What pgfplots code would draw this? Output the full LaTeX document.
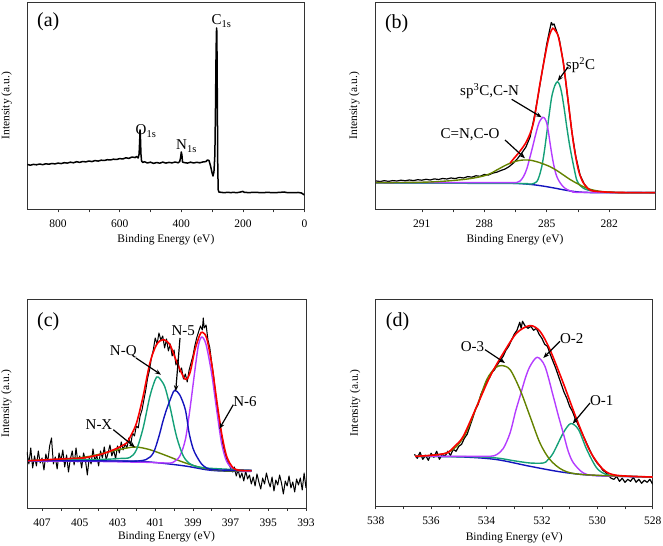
\documentclass[border=0pt]{standalone}
\usepackage{pgfplots}
\pgfplotsset{compat=1.18}
\usepackage{fontspec}
\setmainfont{Liberation Serif}
\usetikzlibrary{arrows.meta}
\definecolor{fitred}{RGB}{250,0,0}
\definecolor{cblue}{RGB}{20,20,190}
\definecolor{cgreen}{RGB}{20,160,120}
\definecolor{cpurple}{RGB}{180,60,255}
\definecolor{colive}{RGB}{100,130,0}
\pgfplotsset{
  xps/.style={
    scale only axis, anchor=south west,
    x dir=reverse, ytick=\empty,
    xtick pos=left, tick align=outside,
    major tick length=3bp, minor tick length=3bp,
    minor x tick num=1,
    axis line style={black!80, line width=0.6bp},
    every tick/.style={black!80, line width=0.6bp},
    /pgf/number format/assume math mode=true,
    /pgf/number format/1000 sep={},
    xticklabel style={font=\fontsize{11.5bp}{13bp}\selectfont, anchor=base, yshift=-15.5bp},
    xlabel={Binding Energy (eV)},
    ylabel={Intensity (a.u.)},
    label style={font=\fontsize{11.5bp}{13bp}\selectfont},
    xlabel style={at={([yshift=-30.5bp]axis description cs:0.5,0)}, anchor=center},
    ylabel style={at={([xshift=-20.6bp]axis description cs:0,0.5)}, anchor=center, rotate=0},
  },
  dat/.style={black, line width=1.5bp, line join=round},
  fit/.style={line width=1.4bp, smooth, tension=0.5},
}
\tikzset{ann/.style={font=\fontsize{15bp}{17bp}\selectfont, inner sep=0pt},
  pan/.style={font=\fontsize{20bp}{22bp}\selectfont, inner sep=0pt},
  arr/.style={-{Stealth[length=6bp,width=4.5bp]}, line width=1.2bp, black}}
\begin{document}
\begin{tikzpicture}[x=1bp,y=1bp]
\path[use as bounding box] (0,0) rectangle (663,546);
% ---------------- (a)
\begin{axis}[xps, at={(27.3bp,336.5bp)}, width=277.2bp, height=207.5bp,
  xmin=0, xmax=900, ymin=0.5, ymax=208, xtick={0,200,400,600,800}]
\addplot[dat] coordinates {
(900,45.5)(890,44.8)(880,45.6)(870,45.2)(860,46.0)(850,45.3)(840,46.2)(830,45.8)(820,46.5)(810,46.1)
(800,46.9)(790,46.4)(780,47.3)(770,46.9)(760,47.8)(750,47.2)(740,48.3)(730,47.6)(720,48.5)(710,48.1)
(700,49.0)(690,48.4)(680,49.4)(670,48.9)(660,49.8)(650,49.5)(640,50.3)(630,50.0)(620,50.8)(610,50.5)
(600,51.4)(590,51.0)(580,52.2)(570,51.6)(560,53.0)(550,52.4)(545,53.5)(540,52.0)(537,56)(535,70)
(534,80)(533,76)(531,56)(529,49)(525,47.5)(520,48.3)(510,47.0)(500,47.8)(490,46.6)(480,47.5)
(470,46.8)(460,47.9)(450,46.9)(440,47.6)(430,47.1)(420,48.0)(410,47.2)(405,48.5)(402,53)(400,58)
(398,55)(396,48)(390,47.4)(380,46.9)(370,47.8)(360,47.0)(350,47.7)(340,47.2)(330,48.0)(320,48.4)
(315,50)(310,49.5)(305,44)(300,37)(297,34)(294,38)(291,55)(289,100)(287,160)(285.5,182)
(284.5,178)(283,110)(281.5,40)(280,20)(278,18)(270,17.6)(260,17.3)(250,17.7)(240,17.4)(230,17.6)
(220,17.3)(210,17.8)(200,18.6)(195,17.6)(180,17.4)(160,17.7)(140,17.3)(120,17.6)(100,17.3)(80,17.6)
(65,18.0)(60,17.5)(40,17.4)(20,17.5)(10,17.0)(5,16.0)(0,15.0)};
\end{axis}
% ---------------- (b)
\begin{axis}[xps, at={(375bp,336.5bp)}, width=280bp, height=207.5bp,
  xmin=279.8, xmax=293.25, ymin=-0.5, ymax=207, xtick={282,285,288,291}]
\addplot[dat, line width=1.2bp] coordinates {
(293.2,28)(293.0,27.5)(292.8,28.3)(292.6,27.6)(292.4,28.4)(292.2,28.0)(292.0,28.8)(291.8,28.2)
(291.6,29.0)(291.4,28.4)(291.2,29.3)(291.0,28.8)(290.8,29.7)(290.6,29.0)(290.4,30.1)(290.2,29.5)
(290.0,30.5)(289.8,30.0)(289.6,31.0)(289.4,30.4)(289.2,31.6)(289.0,31.0)(288.8,32.4)(288.6,31.8)
(288.4,33.2)(288.2,32.7)(288.0,34.5)(287.8,34.0)(287.6,35.8)(287.4,36.8)(287.2,38.5)(287.0,40.0)
(286.8,42.5)(286.6,46.0)(286.4,50.5)(286.2,56.0)(286.0,62.0)(285.8,72.0)(285.6,92)(285.4,115)
(285.2,140)(285.0,165)(284.85,180)(284.78,186.5)(284.72,184)(284.65,185)(284.55,179)(284.4,170)
(284.2,146)(284.0,112)(283.8,78)(283.6,52)(283.4,34)(283.2,25)(283.0,20)(282.8,18.5)(282.6,17.5)
(282.4,17.0)(282.0,16.8)(281.5,16.5)(281,16.6)(280.5,16.4)(279.8,16.3)};
\addplot[fit, cblue] coordinates {
(293.2,26.2)(287.5,26.0)(286.8,25.8)(286.3,25.4)(285.8,24.6)(285.4,23.6)(285.0,22.3)(284.6,20.8)
(284.2,19.2)(283.8,17.8)(283.4,16.9)(283.0,16.5)(282.5,16.3)(279.8,16.3)};
\addplot[fit, cgreen] coordinates {
(293.2,26)(286.5,25.5)(286.0,25.2)(285.72,25)(285.48,27.3)(285.36,33)(285.24,42.3)(285.12,57)
(285.0,75.7)(284.88,95)(284.76,112.3)(284.62,123)(284.49,127.3)(284.38,124)(284.28,115.7)
(284.16,100)(284.04,82.3)(283.92,66)(283.80,52.3)(283.68,40)(283.56,29)(283.4,23.5)(283.24,20.7)
(283.0,18.8)(282.76,18)(282.4,17)(281.8,16.5)(279.8,16.3)};
\addplot[fit, cpurple] coordinates {
(293.2,26.3)(287.5,26.3)(286.8,26.3)(286.44,26.5)(286.28,28)(286.12,32.3)(285.96,40)(285.80,52.3)
(285.68,62)(285.56,72.3)(285.45,81)(285.35,87.3)(285.19,91.7)(285.08,90)(285.0,85.7)(284.92,77)
(284.84,65.7)(284.76,55)(284.68,45.7)(284.56,35)(284.44,29)(284.28,24)(284.12,20.7)(283.92,18.5)
(283.72,17.3)(283.4,16.6)(279.8,16.3)};
\addplot[fit, colive] coordinates {
(293.2,26.3)(291.5,26.6)(290.6,27)(289.8,28)(289,29.5)(288.5,31)(288.04,33)(287.7,35.5)(287.4,39)
(287.0,43.5)(286.76,45.7)(286.44,48)(286.12,49)(285.8,48.8)(285.48,47.3)(285.16,45)(284.84,42.3)
(284.52,38.5)(284.2,34)(283.88,29.5)(283.56,25.7)(283.24,22.3)(282.92,19.7)(282.6,18.2)(282.28,17.3)
(281.8,16.6)(281.48,16.3)(279.8,16.3)};
\addplot[fit, fitred, line width=1.6bp] coordinates {
(286.76,45.9)(286.6,50)(286.28,58)(285.96,68)(285.64,86)(285.32,126)(285.0,162)(284.85,175)
(284.71,180.7)(284.58,178)(284.44,172)(284.20,145.7)(283.96,106)(283.72,66)(283.48,39)(283.24,26)
(282.92,19)(282.44,17.3)(281.5,16.5)(279.8,16.3)};
\end{axis}
% ---------------- (c)
\begin{axis}[xps, at={(27bp,38bp)}, width=279bp, height=208.3bp,
  xmin=393, xmax=407.8, ymin=0, ymax=208.3, xtick={393,395,...,407},
  xlabel style={at={([yshift=-28.5bp]axis description cs:0.5,0)}}]
\addplot[black, line width=1bp, line join=round] coordinates {
(407.8,56)(407.7,44)(407.6,60)(407.5,40)(407.4,52)(407.3,42)(407.2,57)(407.1,45)(407.0,50)(406.9,38)
(406.8,54)(406.7,46)(406.6,62)(406.5,70)(406.4,44)(406.3,51)(406.2,39)(406.1,55)(406.0,47)(405.9,58)
(405.8,41)(405.7,53)(405.6,36)(405.5,49)(405.4,57)(405.3,43)(405.2,60)(405.1,46)(405.0,52)(404.9,40)
(404.8,55)(404.7,48)(404.6,33)(404.5,50)(404.4,44)(404.3,59)(404.2,47)(404.1,53)(404.0,42)(403.9,57)
(403.8,50)(403.7,61)(403.6,48)(403.5,55)(403.4,63)(403.3,52)(403.2,58)(403.1,49)(403.0,62)(402.9,55)
(402.8,66)(402.7,58)(402.6,64)(402.5,60)(402.4,70)(402.3,63)(402.2,75)(402.1,72)(402.0,82)(401.9,80)
(401.8,92)(401.7,98)(401.6,108)(401.5,118)(401.4,130)(401.3,138)(401.2,150)(401.1,158)(401.0,170)
(400.9,164)(400.8,175)(400.7,168)(400.6,172)(400.5,160)(400.4,169)(400.3,157)(400.2,164)(400.1,152)
(400.0,158)(399.9,143)(399.8,148)(399.7,136)(399.6,140)(399.5,129)(399.4,134)(399.3,126)(399.2,138)
(399.1,145)(399.0,152)(398.9,162)(398.8,170)(398.7,176)(398.6,182)(398.5,178)(398.45,190)(398.4,180)
(398.3,183)(398.2,168)(398.1,160)(398.0,145)(397.9,132)(397.8,115)(397.7,96)(397.6,90)(397.5,74)
(397.4,62)(397.3,55)(397.2,48)(397.1,44)(397.0,40)(396.9,36)(396.8,41)(396.7,32)(396.6,38)(396.5,30)
(396.4,35)(396.3,27)(396.2,37)(396.1,29)(396.0,33)(395.9,24)(395.8,31)(395.7,22)(395.6,34)(395.5,26)
(395.4,19)(395.3,30)(395.2,24)(395.1,35)(395.0,27)(394.9,21)(394.8,31)(394.7,17)(394.6,28)(394.5,23)
(394.4,33)(394.3,25)(394.2,14)(394.1,27)(394.0,22)(393.9,32)(393.8,20)(393.7,26)(393.6,16)(393.5,29)
(393.4,23)(393.3,30)(393.2,18)(393.1,35)(393.0,20)};
\addplot[fit, cblue] coordinates {
(407.74,47.3)(403,47)(401.8,46.7)(401,45.5)(400.4,44.3)(399.9,43.2)(399.3,41.7)(398.8,40)(398.3,38.3)
(397.8,37.3)(396.9,36.7)(395.88,36.7)};
\addplot[fit, colive] coordinates {
(407.74,47.3)(406.5,48)(405.7,49)(404.9,50.5)(404.3,52.3)(403.7,55)(403.2,57.3)(402.5,60)(401.99,61)
(401.28,58.3)(400.4,52.3)(399.5,45.7)(398.63,40.7)(397.74,37.7)(396.86,37)(395.88,37)};
\addplot[fit, cpurple] coordinates {
(407.74,47)(404,46.5)(402.5,46)(401.5,45.7)(400.4,45)(400.05,45.7)(399.7,51.7)(399.4,68.3)(399.16,98.3)
(398.89,138.3)(398.7,163.3)(398.52,171)(398.3,163.3)(398.01,135)(397.74,98.3)(397.48,65)(397.21,46.7)
(396.86,39)(396.5,37.3)(395.88,37)};
\addplot[fit, cgreen] coordinates {
(407.74,47.5)(404,48.5)(402.9,49.5)(402.35,50.5)(402.0,58)(401.64,80)(401.28,111.7)(401.0,128.3)
(400.84,131)(400.5,121.7)(400.22,101.7)(399.87,71.7)(399.5,51.7)(399.07,43.3)(398.3,40)(395.88,37.7)};
\addplot[fit, cblue] coordinates {
(407.74,47.3)(403,47)(402.2,46.7)(401.5,48.3)(401.1,55)(400.8,71.7)(400.6,86)(400.4,98.3)(400.1,113.3)
(399.96,117.7)(399.7,113.3)(399.4,98.3)(399.2,75)(399.0,60)(398.8,51.7)(398.45,42.3)(397.9,38.3)(395.88,37.7)};
\addplot[fit, fitred, line width=1.6bp] coordinates {
(407.74,47.3)(405.5,49.5)(404.82,50)(404.0,53)(403.41,56.7)(403.0,60)(402.52,65)(402.3,72)(401.99,85)
(401.64,111.7)(401.28,145)(400.93,163.3)(400.58,168.3)(400.22,163.3)(399.87,146.7)(399.42,129)
(399.16,135)(398.89,158.3)(398.63,173.3)(398.49,175.7)(398.27,170)(398.01,145)(397.74,108.3)
(397.48,75)(397.21,51.7)(396.86,40)(396.5,37.7)(395.88,37.3)};
\end{axis}
% ---------------- (d)
\begin{axis}[xps, at={(375.7bp,39.7bp)}, width=277bp, height=206.6bp,
  xmin=528, xmax=538, ymin=0, ymax=206.6, xtick={528,530,...,538},
  xlabel style={at={([yshift=-31bp]axis description cs:0.5,0)}}]
\addplot[black, line width=1.2bp, line join=round] coordinates {
(536.6,52)(536.5,48)(536.4,54)(536.3,47)(536.2,51)(536.1,46)(536.0,53)(535.9,49)(535.8,55)(535.7,47)
(535.6,52)(535.5,50)(535.4,55)(535.3,51)(535.2,57)(535.1,55)(535.0,60)(534.9,62)(534.8,68)(534.7,72)
(534.6,80)(534.5,88)(534.4,97)(534.3,102)(534.2,112)(534.1,118)(534.0,125)(533.9,128)(533.8,134)
(533.7,137)(533.6,142)(533.5,146)(533.4,150)(533.3,156)(533.2,160)(533.1,166)(533.0,172)(532.9,176)
(532.8,184)(532.75,178)(532.7,185)(532.6,180)(532.5,178)(532.4,180)(532.3,176)(532.2,178)(532.1,172)
(532.0,168)(531.9,162)(531.8,160)(531.7,152)(531.6,145)(531.5,138)(531.4,130)(531.3,122)(531.2,114)
(531.1,108)(531.0,100)(530.9,95)(530.8,88)(530.7,82)(530.6,76)(530.5,70)(530.4,64)(530.3,58)(530.2,52)
(530.1,47)(530.0,43)(529.9,40)(529.8,36)(529.7,34)(529.6,31)(529.5,28)(529.4,27)(529.3,30)(529.2,25)
(529.1,28)(529.0,24)(528.9,27)(528.8,25)(528.7,29)(528.6,24)(528.5,27)(528.4,23)(528.3,26)(528.2,24)
(528.1,27)(528.0,22)};
\addplot[fit, cblue] coordinates {
(536.58,50)(534.84,49.3)(533.63,46.7)(532.43,40)(531.23,34)(530.02,30.7)(528.0,29.3)};
\addplot[fit, cgreen] coordinates {
(536.58,50)(534.5,49.5)(533.63,48.3)(533,45.5)(532.43,43.3)(531.95,43.3)(531.8,46)(531.59,53.3)
(531.23,73.3)(530.96,82.7)(530.68,76.7)(530.38,56.7)(530.02,38.3)(529.66,31.7)(529.06,30)(528.0,29.3)};
\addplot[fit, cpurple] coordinates {
(536.58,50)(534.5,50)(533.87,50)(533.63,51.7)(533.39,58)(533.15,73.3)(532.95,95)(532.79,110)(532.6,128)
(532.43,140)(532.17,149)(531.89,140)(531.59,110)(531.4,90)(531.23,73.3)(531.05,55)(530.86,43.3)
(530.50,33.3)(530.02,30.7)(528.0,29.3)};
\addplot[fit, colive] coordinates {
(536.58,50)(535.44,53.3)(534.84,68.3)(534.35,100)(533.99,126.7)(533.69,138.3)(533.45,140.7)(533.15,136.7)
(532.79,116.7)(532.43,90)(532.07,63.3)(531.71,46.7)(531.23,36)(530.50,31.7)(528.0,29.3)};
\addplot[fit, fitred, line width=1.6bp] coordinates {
(536.58,50)(536.0,51)(535.44,53.3)(535.15,60)(534.84,70)(534.35,100)(533.87,130)(533.39,153.3)
(532.91,173.3)(532.43,180.7)(532.07,175)(531.71,156.7)(531.23,123.3)(530.74,86.7)(530.26,55)
(529.78,36.7)(529.30,31)(528.0,29.3)};
\end{axis}
% ---------------- annotations
\node[pan] at (48.3,524) {(a)};
\node[ann, anchor=base west] at (211.5,521) {C\textsubscript{1s}};
\node[ann, anchor=base west] at (135.5,411) {O\textsubscript{1s}};
\node[ann, anchor=base west] at (176,396) {N\textsubscript{1s}};
\node[pan] at (396.7,522) {(b)};
\node[ann] at (580.5,481) {sp\textsuperscript{2}C};
\draw[arr] (568.3,479.3) -- (557.7,465);
\node[ann] at (489.5,454.5) {sp\textsuperscript{3}C,C-N};
\draw[arr] (511.7,446.7) -- (541.7,428.7);
\node[ann] at (470,411.5) {C=N,C-O};
\draw[arr] (505,406) -- (525,387.7);
\node[pan] at (48.3,224) {(c)};
\node[ann] at (123.3,194) {N-Q};
\draw[arr] (136,188) -- (161,171.3);
\node[ann] at (183.3,215.5) {N-5};
\draw[arr] (180,208) -- (175.7,154.7);
\node[ann] at (245,144) {N-6};
\draw[arr] (233.3,141.3) -- (219.3,117);
\node[ann] at (99,121.3) {N-X};
\draw[arr] (113.3,116.3) -- (135,98.7);
\node[pan] at (397.5,224.5) {(d)};
\node[ann] at (472.5,199) {O-3};
\draw[arr] (485,196.3) -- (505,183);
\node[ann] at (571.7,207) {O-2};
\draw[arr] (560,204.7) -- (543.3,188);
\node[ann] at (601.7,145.5) {O-1};
\draw[arr] (590,143) -- (572.7,122.3);
\end{tikzpicture}
\end{document}
